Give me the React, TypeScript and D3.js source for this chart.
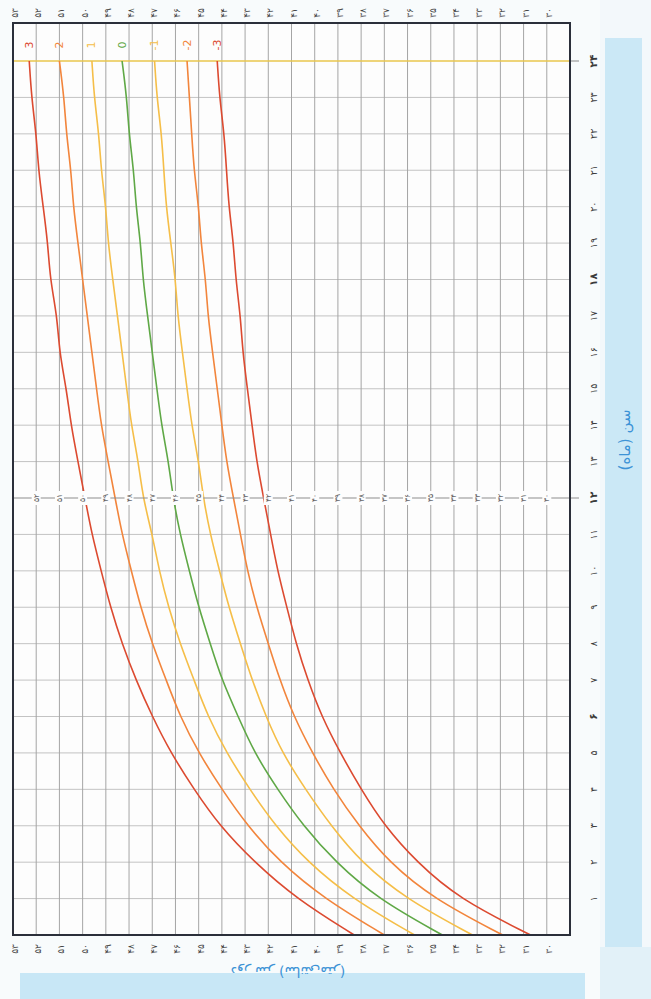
import React, { useEffect } from "react";
import * as d3 from "d3";

// ---- data (head circumference, cm) ----
const ages = [0,1,2,3,4,5,6,7,8,9,10,11,12,13,14,15,16,17,18,19,20,21,22,23,24];
const sdNeg3 = [30.7,33.8,35.6,37.0,38.0,38.9,39.7,40.3,40.8,41.2,41.6,41.9,42.2,42.5,42.7,42.9,43.1,43.2,43.4,43.5,43.7,43.8,43.9,44.1,44.2];
const sdNeg2 = [31.9,34.9,36.8,38.1,39.2,40.1,40.9,41.5,42.0,42.5,42.9,43.2,43.5,43.8,44.0,44.2,44.4,44.6,44.7,44.9,45.0,45.2,45.3,45.4,45.5];
const sdNeg1 = [33.2,36.1,38.0,39.3,40.4,41.4,42.1,42.7,43.2,43.7,44.1,44.5,44.8,45.0,45.3,45.5,45.7,45.9,46.0,46.2,46.4,46.5,46.6,46.8,46.9];
const sd0 = [34.5,37.3,39.1,40.5,41.6,42.6,43.3,44.0,44.5,45.0,45.4,45.8,46.1,46.3,46.6,46.8,47.0,47.2,47.4,47.5,47.7,47.8,48.0,48.1,48.3];
const sdPos1 = [35.7,38.4,40.3,41.7,42.8,43.8,44.6,45.2,45.8,46.3,46.7,47.0,47.4,47.6,47.9,48.1,48.3,48.5,48.7,48.9,49.0,49.2,49.3,49.5,49.6];
const sdPos2 = [37.0,39.6,41.5,42.9,44.0,45.0,45.8,46.4,47.0,47.5,47.9,48.3,48.6,48.9,49.2,49.4,49.6,49.8,50.0,50.2,50.4,50.5,50.7,50.8,51.0];
const sdPos3 = [38.3,40.8,42.6,44.1,45.2,46.2,47.0,47.7,48.3,48.8,49.2,49.6,49.9,50.2,50.5,50.7,51.0,51.1,51.4,51.5,51.7,51.9,52.0,52.2,52.3];

const seriesNames = ["3", "2", "1", "0", "-1", "-2", "-3"];
const seriesValues = [sdPos3, sdPos2, sdPos1, sd0, sdNeg1, sdNeg2, sdNeg3];
const seriesColors = ["#dc4a30", "#f2853c", "#f5be48", "#5fa846", "#f5be48", "#f2853c", "#dc4a30"];

const valueTicks = [53,52,51,50,49,48,47,46,45,44,43,42,41,40,39,38,37,36,35,34,33,32,31,30];
const monthTicks = [1,2,3,4,5,6,7,8,9,10,11,12,13,14,15,16,17,18,19,20,21,22,23,24];
const boldMonths = [6, 12, 18, 24];

const yTitle = "دور سر (سانتی‌متر)";
const xTitle = "سن (ماه)";

const faDigits = "۰۱۲۳۴۵۶۷۸۹";
const toFa = (n: number) => String(n).replace(/[0-9]/g, (d) => faDigits[+d]);

export default function App() {
  useEffect(() => {
    document.body.style.margin = "0";
    document.body.style.overflow = "hidden";
  }, []);

  const W = 651, H = 999;
  const boxL = 13, boxR = 570, boxT = 23, boxB = 935;
  // rotated chart: values run horizontally (53 at left), ages run vertically (0 at bottom)
  const x = d3.scaleLinear().domain([53, 29]).range([boxL, boxR]);
  const y = d3.scaleLinear().domain([0, 24]).range([boxB, 61]);

  const line = d3
    .line<number>()
    .x((d) => x(d))
    .y((_, i) => y(ages[i]))
    .curve(d3.curveBasis);

  const font = "'DejaVu Sans', sans-serif";
  const blue = "#3d93d6";
  const gridV = valueTicks.filter((v) => v < 53);
  const gridH = monthTicks.filter((m) => m !== 12 && m !== 24);

  return (
    <svg width={W} height={H} style={{ display: "block", background: "#f3f8fb" }} fontFamily={font}>
      {/* background panels */}
      <rect x={0} y={0} width={600} height={H} fill="#f8fbfc" />
      <rect x={605} y={38} width={37} height={909} fill="#cbe8f6" />
      <rect x={20} y={973} width={565} height={26} fill="#c8e7f6" />
      <rect x={600} y={947} width={51} height={52} fill="#e2f1f8" />

      {/* plot box interior */}
      <rect x={boxL} y={boxT} width={boxR - boxL} height={boxB - boxT} fill="#fdfdfd" />

      {/* horizontal month grid */}
      {gridH.map((m) => (
        <line key={"h" + m} x1={boxL} x2={boxR} y1={y(m)} y2={y(m)} stroke="#c3c3c3" strokeWidth={1} />
      ))}
      {/* vertical value grid */}
      {gridV.map((v) => (
        <line key={"v" + v} x1={x(v)} x2={x(v)} y1={boxT} y2={boxB} stroke="#a5a5a5" strokeWidth={1} />
      ))}

      {/* age 24 line */}
      <line x1={boxL} x2={boxR} y1={y(24)} y2={y(24)} stroke="#e8c64c" strokeWidth={1.5} />
      <line x1={boxR} x2={boxR + 9} y1={y(24)} y2={y(24)} stroke="#888" strokeWidth={1} />

      {/* curves */}
      {seriesValues.map((vals, i) => (
        <path key={"c" + i} d={line(vals) || ""} fill="none" stroke={seriesColors[i]} strokeWidth={1.6} />
      ))}

      {/* age 12 line with value labels */}
      <line x1={boxL} x2={boxR + 9} y1={y(12)} y2={y(12)} stroke="#8d8d8d" strokeWidth={1.2} />
      {valueTicks.filter((v) => v < 53).map((v) => (
        <g key={"m12" + v} transform={`translate(${x(v)},${y(12)}) rotate(-90)`}>
          <rect x={-7} y={-4.5} width={14} height={9} fill="#fdfdfd" />
          <text textAnchor="middle" dominantBaseline="central" fontSize={7.5} fill="#555">
            {toFa(v)}
          </text>
        </g>
      ))}

      {/* box border */}
      <rect x={boxL} y={boxT} width={boxR - boxL} height={boxB - boxT} fill="none" stroke="#2b2f3a" strokeWidth={2} />

      {/* z-score labels */}
      {seriesValues.map((vals, i) => (
        <text
          key={"z" + i}
          transform={`translate(${x(vals[vals.length - 1])},${(boxT + y(24)) / 2 + 3}) rotate(-90)`}
          textAnchor="middle"
          dominantBaseline="central"
          fontSize={11}
          fill={seriesColors[i]}
        >
          {seriesNames[i]}
        </text>
      ))}

      {/* value tick labels top & bottom */}
      {valueTicks.map((v) => (
        <g key={"vt" + v}>
          <text
            transform={`translate(${x(v) + 2},${13}) rotate(-90)`}
            textAnchor="middle"
            dominantBaseline="central"
            fontSize={9}
            fill="#444"
          >
            {toFa(v)}
          </text>
          <text
            transform={`translate(${x(v) + 2},${949}) rotate(-90)`}
            textAnchor="middle"
            dominantBaseline="central"
            fontSize={9}
            fill="#444"
          >
            {toFa(v)}
          </text>
        </g>
      ))}

      {/* month tick labels */}
      {monthTicks.map((m) => (
        <text
          key={"mt" + m}
          transform={`translate(${593},${y(m)}) rotate(-90)`}
          textAnchor="middle"
          dominantBaseline="central"
          fontSize={boldMonths.includes(m) ? 10.5 : 9.5}
          fontWeight={boldMonths.includes(m) ? 700 : 400}
          fill="#3a3a3a"
        >
          {toFa(m)}
        </text>
      ))}

      {/* axis titles */}
      <text
        transform={`translate(${625},${440}) rotate(-90)`}
        textAnchor="middle"
        dominantBaseline="central"
        fontSize={15}
        fill={blue}
      >
        {xTitle}
      </text>
      <text
        transform={`translate(${288},${972}) rotate(180)`}
        textAnchor="middle"
        dominantBaseline="central"
        fontSize={14}
        fill={blue}
      >
        {yTitle}
      </text>
    </svg>
  );
}
